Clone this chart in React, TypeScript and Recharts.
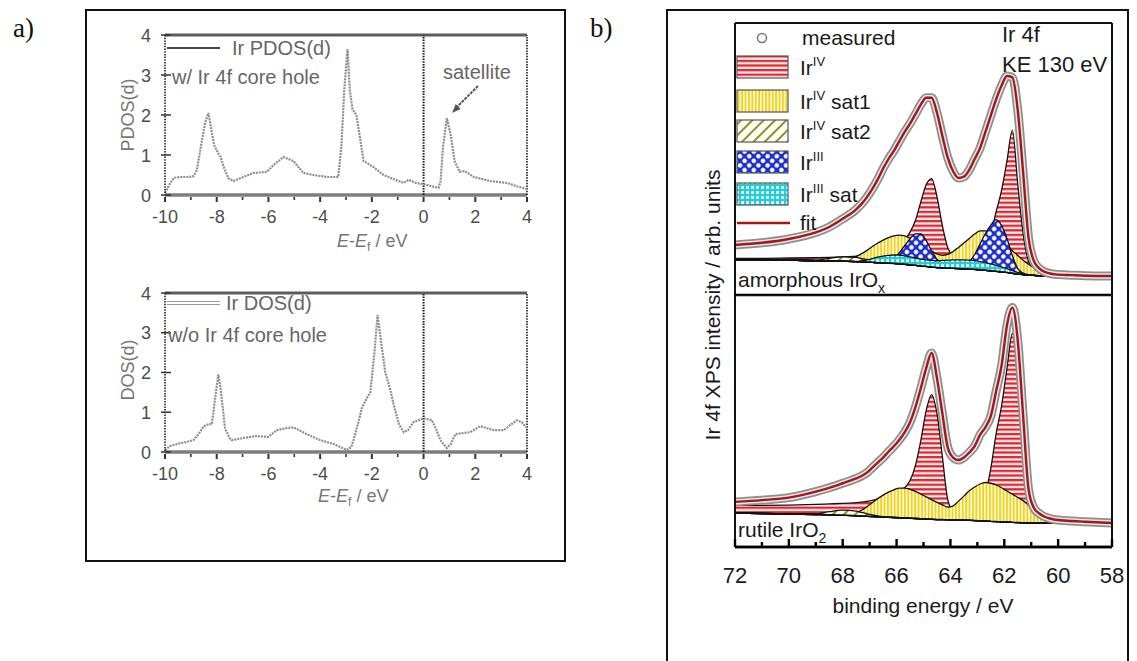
import React from 'react';
import { ComposedChart, LineChart, Line, Area, XAxis, YAxis, ReferenceLine } from 'recharts';

const SANS = '"Liberation Sans", Arial, Helvetica, sans-serif';
const SERIF = '"Liberation Serif", "Times New Roman", serif';

// ---------- a) calculated Ir d density of states ----------
const energyTicks = [-10, -9, -8, -7, -6, -5, -4, -3, -2, -1, 0, 1, 2, 3, 4];
const dosTicks = [0, 1, 2, 3, 4];

// [E - Ef (eV), PDOS]
const pdosCoreHole: [number, number][] = [
  [-10, 0.05], [-9.8, 0.3], [-9.65, 0.43], [-9.4, 0.45], [-9.1, 0.45], [-8.9, 0.47],
  [-8.77, 0.62], [-8.6, 1.25], [-8.45, 1.8], [-8.32, 2.05], [-8.2, 1.6], [-8.1, 1.25],
  [-7.95, 1.05], [-7.85, 0.95], [-7.7, 0.65], [-7.55, 0.42], [-7.35, 0.35], [-6.97, 0.45],
  [-6.58, 0.55], [-6.06, 0.58], [-5.8, 0.75], [-5.42, 0.95], [-5.03, 0.85], [-4.65, 0.55],
  [-4.26, 0.5], [-3.74, 0.45], [-3.3, 0.45], [-3.18, 1.2], [-3.07, 2.6], [-2.94, 3.65],
  [-2.85, 2.6], [-2.75, 2.15], [-2.6, 2.0], [-2.45, 1.4], [-2.32, 0.85], [-1.94, 0.7],
  [-1.55, 0.5], [-1.16, 0.4], [-0.77, 0.3], [-0.58, 0.38], [-0.3, 0.3], [0, 0.27],
  [0.3, 0.22], [0.58, 0.18], [0.66, 0.35], [0.75, 1.2], [0.9, 1.92], [1.05, 1.5],
  [1.2, 0.85], [1.4, 0.58], [1.6, 0.6], [1.94, 0.45], [2.58, 0.35], [3.23, 0.3],
  [3.6, 0.22], [4, 0.15],
];

// [E - Ef (eV), DOS]
const dosNoCoreHole: [number, number][] = [
  [-10, 0.05], [-9.8, 0.15], [-9.55, 0.2], [-9.2, 0.25], [-8.9, 0.3], [-8.7, 0.45],
  [-8.5, 0.65], [-8.3, 0.7], [-8.19, 0.7], [-8.05, 1.4], [-7.94, 1.95], [-7.85, 1.6],
  [-7.68, 0.6], [-7.5, 0.35], [-7.42, 0.3], [-6.97, 0.35], [-6.52, 0.4], [-6.0, 0.38],
  [-5.68, 0.55], [-5.3, 0.6], [-5.03, 0.62], [-4.52, 0.45], [-4.0, 0.3], [-3.48, 0.2],
  [-2.97, 0.05], [-2.8, 0.12], [-2.71, 0.3], [-2.5, 0.8], [-2.39, 1.1], [-2.2, 1.35],
  [-2.06, 1.5], [-1.9, 2.5], [-1.78, 3.45], [-1.65, 2.8], [-1.48, 2.0], [-1.3, 1.6],
  [-1.16, 1.2], [-0.95, 0.7], [-0.77, 0.5], [-0.6, 0.55], [-0.39, 0.75], [0, 0.85],
  [0.32, 0.8], [0.5, 0.55], [0.65, 0.3], [0.9, 0.1], [1.05, 0.2], [1.23, 0.45],
  [1.81, 0.5], [2.19, 0.65], [2.71, 0.55], [3.1, 0.55], [3.4, 0.7], [3.61, 0.8],
  [3.8, 0.75], [4, 0.6],
];

// ---------- b) Ir 4f XPS ----------
const beTicks = [58, 59, 60, 61, 62, 63, 64, 65, 66, 67, 68, 69, 70, 71, 72];

const bindingEnergy = [
  72, 71, 70, 69, 68.5, 68,
  67.5, 67.3, 67.1, 66.9, 66.7, 66.5, 66.3, 66.1, 65.9, 65.7,
  65.5, 65.3, 65.1, 64.9, 64.7, 64.5, 64.3, 64.1, 63.9, 63.7,
  63.5, 63.3, 63.1, 62.9, 62.7, 62.5, 62.3, 62.1, 61.9, 61.7,
  61.5, 61.3, 61.1, 60.9, 60.7, 60.5, 60.3, 60.1, 59.5, 59, 58,
];

// amorphous IrOx (arb. units, 0..100 panel height)
const amoBackground = [
  13, 12.9, 12.8, 12.6, 12.5, 12.4,
  12.3, 12.2, 12.1, 12.0, 11.9, 11.8, 11.7, 11.6, 11.5, 11.3,
  11.1, 10.9, 10.7, 10.5, 10.3, 10.1, 10.0, 9.9, 9.8, 9.7,
  9.6, 9.5, 9.4, 9.3, 9.1, 8.9, 8.7, 8.5, 8.3, 8.0,
  7.7, 7.5, 7.3, 7.2, 7.1, 7.0, 7.0, 7.0, 7.0, 7.0, 7.0,
];
const amoMeasured = [
  18.4, 19.2, 20.6, 23, 25, 28,
  31.5, 33.5, 36, 39, 42.5, 46.5, 50, 53, 56.5, 60,
  63, 66.5, 70, 72.5, 72.5, 67, 58.5, 50.5, 45.5, 43,
  43.5, 46, 50, 54, 60, 66, 72, 77, 80.5, 80,
  68, 45, 21, 12.5, 9.8, 8.5, 7.9, 7.6, 7.3, 7.1, 7.0,
];
const amoIr4 = [
  0.5, 0.6, 0.8, 1.1, 1.3, 1.6,
  2.0, 2.3, 2.6, 3.0, 3.4, 4.0, 4.8, 5.8, 7.0, 9.0,
  12, 16.5, 23.5, 30, 32.5, 26, 15.5, 7.5, 4.5, 3.5,
  3.5, 4.2, 5.2, 6.8, 9.5, 13.5, 22, 30, 41, 52.5,
  33, 15, 5, 2, 0.8, 0.4, 0.2, 0.1, 0, 0, 0,
];
const amoIr4Sat1 = [
  0, 0, 0, 0, 0, 0.2,
  1.8, 3.0, 4.3, 5.8, 7.2, 8.4, 9.4, 10.1, 10.5, 10.4,
  9.8, 9.0, 7.8, 6.7, 5.8, 5.0, 4.6, 5.0, 6.2, 7.8,
  9.5, 11.3, 13.0, 14.3, 14.5, 13.8, 12.6, 11.2, 9.8, 8.3,
  6.8, 5.3, 4.0, 2.8, 1.8, 1.0, 0.5, 0.2, 0, 0, 0,
];
const amoIr4Sat2 = [
  0, 0, 0, 0.2, 1.0, 1.6,
  1.5, 1.2, 0.9, 0.6, 0.4, 0.2, 0, 0, 0, 0,
  0, 0, 0, 0, 0, 0, 0, 0, 0, 0,
  0, 0, 0, 0, 0, 0, 0, 0, 0, 0,
  0, 0, 0, 0, 0, 0, 0, 0, 0, 0, 0,
];
const amoIr3 = [
  0, 0, 0, 0, 0, 0,
  0, 0, 0, 0, 0, 0.3, 0.8, 2.0, 4.0, 6.8,
  9.5, 11.6, 11.8, 9.5, 6.0, 3.0, 1.3, 0.5, 0.3, 0.5,
  1.2, 2.8, 5.5, 9.5, 13.5, 16.8, 19, 17, 12.5, 6.5,
  2.0, 0.6, 0.2, 0, 0, 0, 0, 0, 0, 0, 0,
];
const amoIr3Sat = [
  0, 0, 0, 0, 0, 0,
  0, 0.3, 0.8, 1.4, 2.0, 2.5, 2.9, 3.1, 3.2, 3.1,
  2.9, 2.7, 2.5, 2.4, 2.4, 2.5, 2.7, 2.9, 3.1, 3.2,
  3.3, 3.3, 3.2, 3.0, 2.8, 2.5, 2.2, 1.8, 1.4, 1.0,
  0.6, 0.3, 0.1, 0, 0, 0, 0, 0, 0, 0, 0,
];

// rutile IrO2
const rutBackground = [
  13.5, 13.3, 13.1, 12.9, 12.8, 12.6,
  12.4, 12.3, 12.2, 12.1, 12.0, 11.9, 11.8, 11.7, 11.6, 11.5,
  11.4, 11.3, 11.2, 11.1, 11.0, 10.9, 10.9, 10.8, 10.8, 10.7,
  10.7, 10.6, 10.5, 10.4, 10.3, 10.2, 10.1, 10.0, 9.9, 9.8,
  9.7, 9.6, 9.5, 9.5, 9.5, 9.5, 9.5, 9.5, 9.5, 9.5, 9.5,
];
const rutMeasured = [
  17.9, 18.6, 19.6, 22, 23.5, 25.3,
  27.2, 28.2, 29.5, 31.5, 33.5, 35.5, 37.8, 40, 42.5, 45.5,
  49.5, 55.5, 63, 71, 77, 67, 53, 39.5, 35.5, 34.5,
  35.5, 37.5, 40, 44.5, 47.5, 52, 62, 72, 88, 95,
  82, 52, 23, 15.5, 13.3, 12, 11.3, 10.8, 10.3, 10, 9.5,
];
const rutIr4 = [
  3.0, 3.2, 3.5, 4.0, 4.3, 4.7,
  5.2, 5.5, 5.9, 6.4, 7.0, 7.8, 8.8, 10, 11, 12,
  15, 21, 31, 43, 49.5, 42, 25, 8, 3.5, 3.0,
  3.2, 3.8, 4.8, 7.5, 11, 21, 35, 46, 61, 75,
  60, 33, 13, 5, 2, 1, 0.5, 0.3, 0.1, 0, 0,
];
const rutIr4Sat1 = [
  0, 0, 0, 0, 0, 0.3,
  1.2, 2.3, 3.8, 5.5, 7.2, 8.7, 10.0, 11.0, 11.8, 11.9,
  11.5, 10.8, 9.8, 8.8, 7.8, 6.8, 5.8, 5.0, 5.5, 7.5,
  9.5, 11.7, 13.3, 14.6, 15.3, 15.1, 14.5, 13.5, 12.3, 11.2,
  10.0, 8.8, 7.2, 5.3, 3.3, 1.8, 0.7, 0.2, 0, 0, 0,
];
const rutIr4Sat2 = [
  0, 0, 0, 0.2, 1.2, 2.0,
  1.8, 1.4, 1.0, 0.6, 0.3, 0.1, 0, 0, 0, 0,
  0, 0, 0, 0, 0, 0, 0, 0, 0, 0,
  0, 0, 0, 0, 0, 0, 0, 0, 0, 0,
  0, 0, 0, 0, 0, 0, 0, 0, 0, 0, 0,
];

// each fitted component is drawn from the background up
const makeRows = (bg: number[], measured: number[], parts: Record<string, number[]>) =>
  bindingEnergy.map((be, i) => {
    const row: any = { be, bg: bg[i], measured: measured[i] };
    Object.keys(parts).forEach((k) => {
      row[k] = [bg[i], bg[i] + parts[k][i]];
    });
    return row;
  });

const amorphousRows = makeRows(amoBackground, amoMeasured, {
  ir4: amoIr4, sat1: amoIr4Sat1, sat2: amoIr4Sat2, ir3: amoIr3, ir3sat: amoIr3Sat,
});
const rutileRows = makeRows(rutBackground, rutMeasured, {
  ir4: rutIr4, sat1: rutIr4Sat1, sat2: rutIr4Sat2,
});

const amorphousParts = [
  { key: 'ir4', fill: 'hRed' },
  { key: 'sat1', fill: 'vYellow' },
  { key: 'sat2', fill: 'dOlive' },
  { key: 'ir3', fill: 'xBlue' },
  { key: 'ir3sat', fill: 'gCyan' },
];
const rutileParts = [
  { key: 'ir4', fill: 'hRed' },
  { key: 'sat1', fill: 'vYellow' },
  { key: 'sat2', fill: 'dOlive' },
];

// ---------- ticks ----------
const EnergyTick = (props: any) => {
  const { x, y, payload } = props;
  const v = payload.value as number;
  const major = v % 2 === 0;
  return (
    <g>
      <line x1={x} x2={x} y1={y + 2} y2={y + (major ? 7 : 5)} stroke="#333" strokeWidth={major ? 2 : 1.6} />
      {major && (
        <text x={x} y={y + 28} textAnchor="middle" fontFamily={SANS} fontSize={18} fill="#4d4d4d">
          {String(v)}
        </text>
      )}
    </g>
  );
};

const DosTick = (props: any) => {
  const { x, y, payload } = props;
  return (
    <g>
      <line x1={x - 4} x2={x + 6} y1={y} y2={y} stroke="#333" strokeWidth={1.5} />
      <text x={x - 14} y={y + 6.5} textAnchor="end" fontFamily={SANS} fontSize={18} fill="#4d4d4d">
        {payload.value}
      </text>
    </g>
  );
};

const BeTick = (props: any) => {
  const { x, y, payload } = props;
  const v = payload.value as number;
  const major = v % 2 === 0;
  return (
    <g>
      <line x1={x} x2={x} y1={y} y2={y - (major ? 8 : 5)} stroke="#000" strokeWidth={2.4} />
      {major && (
        <text x={x} y={y + 36} textAnchor="middle" fontFamily={SANS} fontSize={22} fill="#1a1a1a">
          {v}
        </text>
      )}
    </g>
  );
};

const DosChart = ({ points, top, mTop, mBottom }: { points: [number, number][]; top: number; mTop: number; mBottom: number }) => {
  const data = points.map(([e, v]) => ({ e, v }));
  return (
    <div style={{ position: 'absolute', left: 95, top, width: 460, height: 250 }}>
      <LineChart width={460} height={250} data={data} margin={{ top: mTop, right: 28, bottom: mBottom, left: 25 }}>
        <XAxis
          dataKey="e" type="number" domain={[-10, 4]} ticks={energyTicks} interval={0}
          axisLine={false} tickLine={false} tickSize={0} tickMargin={0} height={30}
          tick={(p: any) => <EnergyTick {...p} />} allowDataOverflow
        />
        <YAxis
          type="number" domain={[0, 4]} ticks={dosTicks} interval={0} width={45}
          axisLine={{ stroke: '#222', strokeWidth: 1.6, strokeDasharray: '1.5 1.2' }}
          tickLine={false} tickSize={0} tickMargin={0}
          tick={(p: any) => <DosTick {...p} />} allowDataOverflow
        />
        <ReferenceLine y={4} stroke="#5c5c5c" strokeWidth={3} />
        <ReferenceLine y={0} stroke="#7d7d7d" strokeWidth={3.5} />
        <ReferenceLine x={0} stroke="#1a1a1a" strokeWidth={2} strokeDasharray="1.5 1.2" />
        <ReferenceLine x={4} stroke="#1a1a1a" strokeWidth={1.6} strokeDasharray="1.5 1.2" />
        <Line
          dataKey="v" type="linear" stroke="#8d8d8d" strokeWidth={2.2} strokeDasharray="2 1"
          dot={false} activeDot={false} isAnimationActive={false}
        />
      </LineChart>
    </div>
  );
};

const XpsChart = ({ rows, parts, top, height, margin, axis }: any) => (
  <div style={{ position: 'absolute', left: 700, top, width: 447, height }}>
    <ComposedChart width={447} height={height} data={rows} margin={margin}>
      <XAxis
        dataKey="be" type="number" domain={[58, 72]} reversed ticks={beTicks} interval={0}
        hide={!axis} height={40} axisLine={{ stroke: '#000', strokeWidth: 2.6 }}
        tickLine={false} tickSize={0} tickMargin={0} tick={(p: any) => <BeTick {...p} />}
        allowDataOverflow
      />
      <YAxis type="number" domain={[0, 100]} hide allowDataOverflow />
      {parts.map((p: any) => (
        <Area
          key={p.key} type="monotone" dataKey={p.key} stroke="#111" strokeWidth={1.3}
          fill={`url(#${p.fill})`} fillOpacity={1} dot={false} activeDot={false}
          isAnimationActive={false}
        />
      ))}
      <Line dataKey="bg" type="monotone" stroke="#111" strokeWidth={1.5} dot={false} activeDot={false} isAnimationActive={false} />
      <Line dataKey="measured" name="measured-edge" type="monotone" stroke="#8e8e8e" strokeWidth={9} dot={false} activeDot={false} isAnimationActive={false} />
      <Line dataKey="measured" name="measured-core" type="monotone" stroke="#e6e6e6" strokeWidth={5.5} dot={false} activeDot={false} isAnimationActive={false} />
      <Line dataKey="measured" name="fit" type="monotone" stroke="#a3161a" strokeWidth={2.4} dot={false} activeDot={false} isAnimationActive={false} />
      <ReferenceLine x={72} stroke="#111" strokeWidth={2} />
      <ReferenceLine x={58} stroke="#111" strokeWidth={2} />
      <ReferenceLine y={100} stroke="#111" strokeWidth={2} />
      <ReferenceLine y={0} stroke="#000" strokeWidth={2.6} />
    </ComposedChart>
  </div>
);

const legendRows = [
  { c: 67, fill: 'hRed', sup: 'IV', rest: '' },
  { c: 101, fill: 'vYellow', sup: 'IV', rest: ' sat1' },
  { c: 131, fill: 'dOlive', sup: 'IV', rest: ' sat2' },
  { c: 162, fill: 'xBlue', sup: 'III', rest: '' },
  { c: 194, fill: 'gCyan', sup: 'III', rest: ' sat' },
];

export default function App() {
  const grayText = { fontFamily: SANS, fontSize: 20, fill: '#666' };
  const bText = { fontFamily: SANS, fontSize: 21, fill: '#1a1a1a' };
  return (
    <div style={{ position: 'absolute', left: 0, top: 0, width: 1137, height: 661, background: '#fff', overflow: 'hidden' }}>
      <DosChart points={pdosCoreHole} top={20} mTop={15} mBottom={45} />
      <DosChart points={dosNoCoreHole} top={275} mTop={18} mBottom={43} />
      <XpsChart rows={amorphousRows} parts={amorphousParts} top={13} height={292} margin={{ top: 10, right: 35, bottom: 10, left: 35 }} axis={false} />
      <XpsChart rows={rutileRows} parts={rutileParts} top={295} height={300} margin={{ top: 0, right: 35, bottom: 8, left: 35 }} axis />

      <svg width={1137} height={661} style={{ position: 'absolute', left: 0, top: 0, pointerEvents: 'none' }}>
        <defs>
          <pattern id="hRed" width="6" height="4.6" patternUnits="userSpaceOnUse">
            <rect width="6" height="4.6" fill="#fff4f4" />
            <rect width="6" height="2.3" fill="#e6232d" />
          </pattern>
          <pattern id="vYellow" width="3.4" height="6" patternUnits="userSpaceOnUse">
            <rect width="3.4" height="6" fill="#fffce8" />
            <rect width="1.9" height="6" fill="#f0d21a" />
          </pattern>
          <pattern id="dOlive" width="8" height="8" patternUnits="userSpaceOnUse" patternTransform="rotate(45)">
            <rect width="8" height="8" fill="#fffef4" />
            <rect width="2" height="8" fill="#8f8f2a" />
          </pattern>
          <pattern id="xBlue" width="6.5" height="6.5" patternUnits="userSpaceOnUse" patternTransform="rotate(45)">
            <rect width="6.5" height="6.5" fill="#1b2bd2" />
            <circle cx="3.25" cy="3.25" r="2.3" fill="#ffffff" />
          </pattern>
          <pattern id="gCyan" width="5" height="5" patternUnits="userSpaceOnUse">
            <rect width="5" height="5" fill="#1ccfda" />
            <rect x="1.2" y="1.2" width="2.8" height="2.8" fill="#ffffff" />
          </pattern>
        </defs>

        {/* panel labels and frames */}
        <text x={13} y={37} fontFamily={SERIF} fontSize={27} fill="#111">a)</text>
        <text x={590} y={37} fontFamily={SERIF} fontSize={27} fill="#111">b)</text>
        <rect x={86} y={10} width={479} height={551} fill="none" stroke="#111" strokeWidth={2} />
        <rect x={667} y={10} width={461} height={670} fill="none" stroke="#111" strokeWidth={2} />

        {/* a) upper */}
        <line x1={167} x2={220} y1={48} y2={48} stroke="#444" strokeWidth={2} />
        <text x={232} y={55} {...grayText}>Ir PDOS(d)</text>
        <text x={172} y={84} {...grayText}>w/ Ir 4f core hole</text>
        <text x={443} y={79} {...grayText}>satellite</text>
        <line x1={478} y1={86} x2={456} y2={108} stroke="#555" strokeWidth={2} strokeDasharray="3 1" />
        <polygon points="452,113 460.7,108.9 455.7,104.1" fill="#555" />
        <text transform="translate(134,115) rotate(-90)" textAnchor="middle" fontFamily={SANS} fontSize={18} fill="#777">PDOS(d)</text>
        <text x={337} y={247} fontFamily={SANS} fontSize={18} fill="#777">
          <tspan fontStyle="italic">E</tspan>-<tspan fontStyle="italic">E</tspan>
          <tspan fontSize={12} dy={4}>f</tspan>
          <tspan dy={-4}> / eV</tspan>
        </text>

        {/* a) lower */}
        <line x1={167} x2={220} y1={301.5} y2={301.5} stroke="#999" strokeWidth={1} />
        <line x1={167} x2={220} y1={304.5} y2={304.5} stroke="#999" strokeWidth={1} />
        <text x={226} y={310} {...grayText}>Ir DOS(d)</text>
        <text x={168} y={342} {...grayText}>w/o Ir 4f core hole</text>
        <text transform="translate(134,370) rotate(-90)" textAnchor="middle" fontFamily={SANS} fontSize={18} fill="#777">DOS(d)</text>
        <text x={318} y={502} fontFamily={SANS} fontSize={18} fill="#777">
          <tspan fontStyle="italic">E</tspan>-<tspan fontStyle="italic">E</tspan>
          <tspan fontSize={12} dy={4}>f</tspan>
          <tspan dy={-4}> / eV</tspan>
        </text>

        {/* b) legend and annotations */}
        <circle cx={762} cy={38} r={4.5} fill="none" stroke="#777" strokeWidth={1.5} />
        <text x={802} y={45} {...bText}>measured</text>
        {legendRows.map((r) => (
          <g key={r.c}>
            <rect x={737} y={r.c - 11} width={51} height={22} fill={`url(#${r.fill})`} stroke="#555" strokeWidth={1.2} />
            <text x={800} y={r.c + 8} {...bText}>
              Ir<tspan fontSize={13} dy={-9}>{r.sup}</tspan>
              <tspan dy={9}>{r.rest}</tspan>
            </text>
          </g>
        ))}
        <line x1={737} x2={790} y1={223} y2={223} stroke="#a3161a" strokeWidth={2.5} />
        <text x={800} y={230} {...bText}>fit</text>
        <text x={1002} y={42} fontFamily={SANS} fontSize={22} fill="#1a1a1a">Ir 4f</text>
        <text x={1002} y={72} fontFamily={SANS} fontSize={22} fill="#1a1a1a">KE 130 eV</text>
        <text x={738} y={287} {...bText}>
          amorphous IrO<tspan fontSize={14} dy={6}>x</tspan>
        </text>
        <text x={738} y={537} {...bText}>
          rutile IrO<tspan fontSize={14} dy={6}>2</tspan>
        </text>
        <text transform="translate(720,305) rotate(-90)" textAnchor="middle" {...bText}>
          Ir 4f XPS intensity / arb. units
        </text>
        <text x={923} y={613} textAnchor="middle" {...bText}>binding energy / eV</text>
      </svg>
    </div>
  );
}
